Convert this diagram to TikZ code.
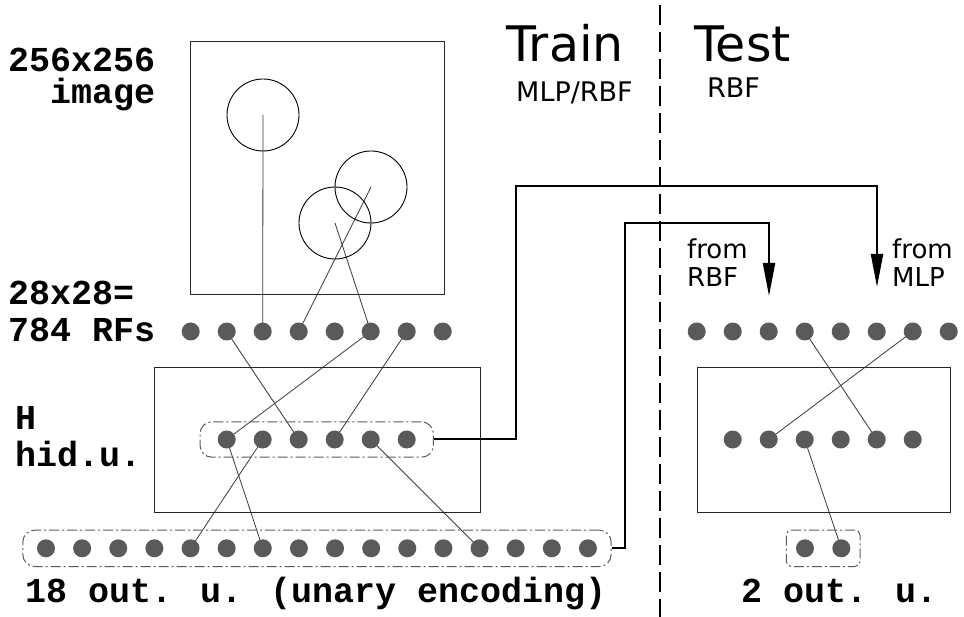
\documentclass[tikz,border=0pt]{standalone}
\usepackage{fontspec}
\newfontfamily\monofam{Liberation Mono}
\newfontfamily\handfam{DejaVu Sans}
\usetikzlibrary{arrows.meta,fit}
\pgfdeclarelayer{bg}
\pgfsetlayers{bg,main}
\definecolor{dotgray}{HTML}{5A5A5A}
\definecolor{linegray}{HTML}{3A3A3A}
\begin{document}
\begin{tikzpicture}[x=1pt,y=-1pt,
  unit/.style={circle,fill=dotgray,inner sep=0pt,minimum size=18pt},
  frame/.style={draw=black!85,line width=1pt,inner sep=0pt},
  rfcircle/.style={circle,draw=black,line width=0.9pt,minimum size=72pt,inner sep=0pt},
  link/.style={draw=linegray,line width=0.8pt},
  group/.style={draw=dotgray,line width=1pt,dash pattern=on 10pt off 3pt on 2pt off 3pt,rounded corners=12pt},
  route/.style={draw=black,line width=2pt},
  routearrow/.style={route,-{Triangle[length=33pt,width=12pt]}},
  lab/.style={inner sep=0pt,anchor=base west,text height=22pt,text depth=4pt,font=\monofam\bfseries\fontsize{35}{35}\selectfont},
  hand/.style={inner sep=0pt,anchor=base west,font=\handfam\fontsize{26}{26}\selectfont},
  bighand/.style={inner sep=0pt,anchor=base west,font=\handfam\fontsize{49}{49}\selectfont},
  divider/.style={draw=black,line width=2pt,dash pattern=on 20pt off 7pt}
]
\useasboundingbox (0,0) rectangle (964,617);

% labels
\node[lab] (t256) at (8,72) {256x256};
\node[lab] (timg) at (50,104) {image};
\node[lab] (t28) at (8,305) {28x28=};
\node[lab] (t784) at (8,342) {784 RFs};
\node[lab] (tH) at (15,430) {H};
\node[lab] (thid) at (15,467) {hid.u.};
\node[lab] (t18) at (25,602) {18 out. u. (unary encoding)};
\node[lab] (t2) at (741,602) {2 out. u.};

\node[bighand] (train) at (506,62) {Train};
\node[bighand] (test) at (694,62) {Test};
\node[hand,font=\handfam\fontsize{27}{27}\selectfont] (mlprbf) at (516,102) {MLP/RBF};
\node[hand,font=\handfam\fontsize{27}{27}\selectfont] (rbf) at (707,98) {RBF};
\node[hand] (fromR1) at (687,259) {from};
\node[hand] (fromR2) at (687,287) {RBF};
\node[hand] (fromM1) at (892,259) {from};
\node[hand] (fromM2) at (892,287) {MLP};

% boxes
\node[frame,minimum width=254pt,minimum height=253pt] (imgbox) at (317,168.5) {};
\node[frame,minimum width=326pt,minimum height=144pt] (hidbox) at (317,440) {};
\node[frame,minimum width=253pt,minimum height=144pt] (hidboxR) at (823.5,440) {};

% receptive field circles
\node[rfcircle] (c1) at (263,115) {};
\node[rfcircle] (c2) at (371,187) {};
\node[rfcircle] (c3) at (335,223) {};

% units
\foreach \i in {1,...,8} {
  \node[unit] (r\i) at ({190.7+36*(\i-1)},331.5) {};
  \node[unit] (R\i) at ({696.7+36*(\i-1)},331.5) {};
}
\foreach \i in {1,...,6} {
  \node[unit] (h\i) at ({226.7+36*(\i-1)},439.5) {};
  \node[unit] (H\i) at ({732.7+36*(\i-1)},439.5) {};
}
\foreach \i in {1,...,16} {
  \node[unit] (o\i) at ({46+36.13*(\i-1)},548.3) {};
}
\node[unit] (O1) at (805,548.3) {};
\node[unit] (O2) at (841.3,548.3) {};

% groups
\node[group,fit=(h1)(h6),inner xsep=17.5pt,inner ysep=8.5pt] (gH) {};
\node[group,fit=(o1)(o16),inner xsep=14pt,inner ysep=9pt] (gO) {};
\node[group,fit=(O1)(O2),inner xsep=9.5pt,inner ysep=9pt,rounded corners=5pt] (gO2) {};

% routes
\coordinate (k1) at (516,186);
\coordinate (mlptip) at (877,287);
\coordinate (k2) at (625,223);
\coordinate (rbftip) at (769,296);
\coordinate (divtop) at (660,5);
\coordinate (divbot) at (660,617);

\begin{pgfonlayer}{bg}
\draw[divider] (divtop) -- (divbot);
\draw[link] (c1.center) -- (r3.center);
\draw[link] (c2.center) -- (r4.center);
\draw[link] (c3.center) -- (r6.center);
\draw[link] (r2.center) -- (h3.center);
\draw[link] (r6.center) -- (h1.center);
\draw[link] (r7.center) -- (h4.center);
\draw[link] (h1.center) -- (o7.center);
\draw[link] (h2.center) -- (o5.center);
\draw[link] (h5.center) -- (o13.center);
\draw[link] (R4.center) -- (H5.center);
\draw[link] (R7.center) -- (H2.center);
\draw[link] (H3.center) -- (O2.center);
\end{pgfonlayer}

\draw[routearrow] (gH.east) -| (k1) -| (mlptip);
\draw[routearrow] (gO.east) -| (k2) -| (rbftip);
\end{tikzpicture}
\end{document}
